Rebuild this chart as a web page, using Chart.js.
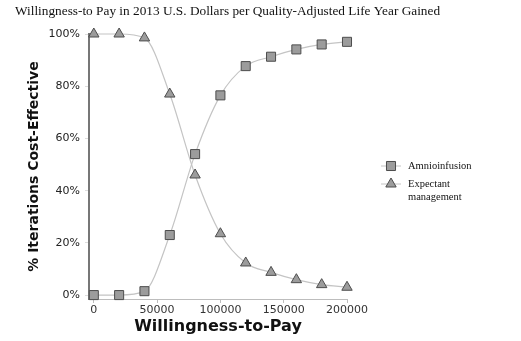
<!DOCTYPE html>
<html>
<head>
<meta charset="utf-8">
<script src="https://cdn.jsdelivr.net/npm/chart.js@4"></script>
<style>
  html, body { margin: 0; padding: 0; background: #fff; }
  #wrap { width: 521px; height: 341px; position: relative; }
</style>
</head>
<body>
<div id="wrap"><canvas id="wtpChart" width="521" height="341"></canvas></div>
<script>
const wtpValues = [0, 20000, 40000, 60000, 80000, 100000, 120000, 140000, 160000, 180000, 200000];
const amnioinfusion = [0, 0, 1.5, 23, 54, 76.5, 87.7, 91.3, 94.1, 96, 97];
const expectant = [100, 100, 98.5, 77, 46, 23.5, 12.3, 8.7, 5.9, 4, 3];
const xTicks = [0, 50000, 100000, 150000, 200000];
const yTicks = [0, 20, 40, 60, 80, 100];
const seriesNames = ['Amnioinfusion', ['Expectant', 'management']];
const chartTitle = 'Willingness-to Pay in 2013 U.S. Dollars per Quality-Adjusted Life Year Gained';

const markerFill = '#9c9c9c';
const markerBorder = '#4d4d4d';
const lineColor = '#c4c4c4';

// title + legend drawn by hand (legend needs two-line label)
const extrasPlugin = {
    id: 'extras',
    afterDraw(chart) {
        const ctx = chart.ctx;
        ctx.save();
        ctx.fillStyle = '#111';
        ctx.font = '13.3px "Liberation Serif"';
        ctx.textAlign = 'left';
        ctx.textBaseline = 'middle';
        ctx.fillText(chartTitle, 15, 12);

        const rows = [166, 184];
        chart.data.datasets.forEach((ds, i) => {
            const y = rows[i];
            ctx.strokeStyle = lineColor;
            ctx.lineWidth = 1;
            ctx.beginPath();
            ctx.moveTo(381, y);
            ctx.lineTo(401, y);
            ctx.stroke();
            ctx.fillStyle = markerFill;
            ctx.strokeStyle = markerBorder;
            ctx.lineWidth = 1;
            Chart.helpers.drawPoint(ctx, {pointStyle: ds.pointStyle, radius: ds.pointRadius, rotation: 0, borderWidth: 1}, 391, y);
            ctx.fillStyle = '#111';
            ctx.font = '10.5px "Liberation Serif"';
            const lines = [].concat(seriesNames[i]);
            lines.forEach((t, k) => ctx.fillText(t, 408, y + k * 13));
        });
        ctx.restore();
    }
};

new Chart(document.getElementById('wtpChart').getContext('2d'), {
    type: 'line',
    data: {
        labels: wtpValues,
        datasets: [{
            label: 'Amnioinfusion',
            data: wtpValues.map((x, i) => ({x: x, y: amnioinfusion[i]})),
            borderColor: lineColor,
            borderWidth: 1.2,
            backgroundColor: markerFill,
            pointBackgroundColor: markerFill,
            pointBorderColor: markerBorder,
            pointBorderWidth: 1,
            pointStyle: 'rect',
            pointRadius: 6.4,
            cubicInterpolationMode: 'monotone',
            clip: false,
            fill: false
        }, {
            label: 'Expectant management',
            data: wtpValues.map((x, i) => ({x: x, y: expectant[i]})),
            borderColor: lineColor,
            borderWidth: 1.2,
            backgroundColor: markerFill,
            pointBackgroundColor: markerFill,
            pointBorderColor: markerBorder,
            pointBorderWidth: 1,
            pointStyle: 'triangle',
            pointRadius: 6,
            cubicInterpolationMode: 'monotone',
            clip: false,
            fill: false
        }]
    },
    options: {
        responsive: false,
        animation: false,
        layout: {padding: {left: 0, right: 174, top: 34, bottom: 0}},
        plugins: {legend: {display: false}, tooltip: {enabled: false}},
        elements: {point: {hoverRadius: 6}},
        scales: {
            x: {
                type: 'linear',
                min: -3800,
                max: 200000,
                afterBuildTicks: s => { s.ticks = xTicks.map(v => ({value: v})); },
                afterFit: s => { s.height = 42; },
                grid: {drawOnChartArea: false, drawTicks: true, tickLength: 4, color: '#bdbdbd'},
                border: {color: '#bdbdbd', width: 1},
                ticks: {color: '#333', font: {family: 'DejaVu Sans', size: 11}, padding: 1, maxRotation: 0,
                        callback: v => String(v)},
                title: {display: true, text: 'Willingness-to-Pay', color: '#111',
                        font: {family: 'DejaVu Sans', size: 16, weight: 'bold'}, padding: {top: 0, bottom: 5}}
            },
            y: {
                min: -1.5,
                max: 100,
                afterBuildTicks: s => { s.ticks = yTicks.map(v => ({value: v})); },
                afterFit: s => { s.width = 89; },
                grid: {drawOnChartArea: false, drawTicks: true, tickLength: 4, color: '#dddddd'},
                border: {color: '#777', width: 2},
                ticks: {color: '#222', font: {family: 'DejaVu Sans', size: 11}, padding: 5,
                        callback: v => v + '%'},
                title: {display: true, text: '% Iterations Cost-Effective', color: '#111',
                        font: {family: 'DejaVu Sans', size: 14, weight: 'bold'}, padding: {top: 26, bottom: 0}}
            }
        }
    },
    plugins: [extrasPlugin]
});
</script>
</body>
</html>
